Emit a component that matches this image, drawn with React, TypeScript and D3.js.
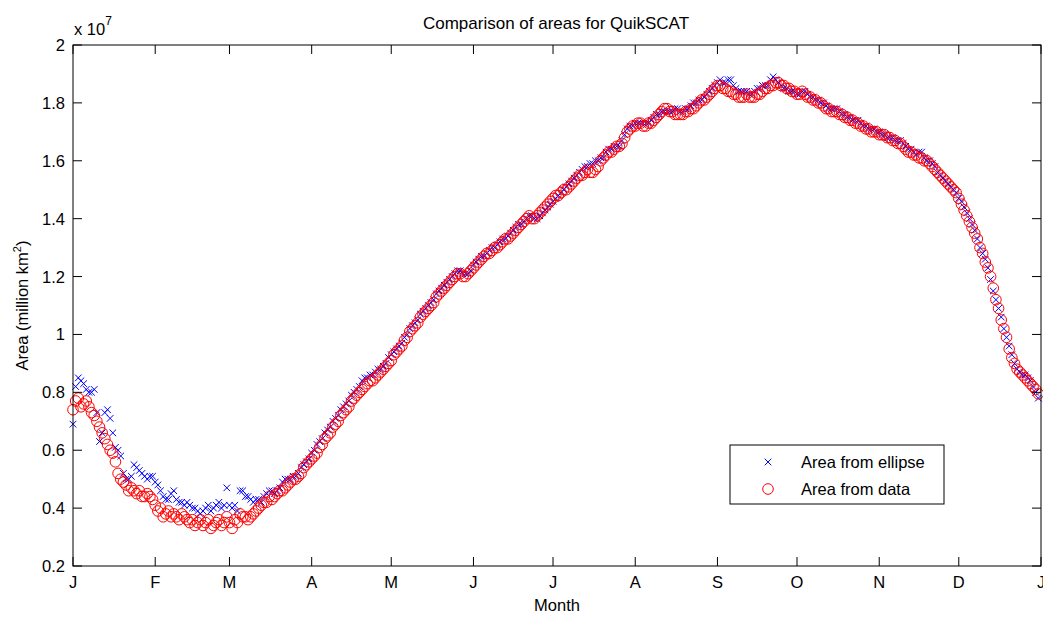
import React from "react";
import * as d3 from "d3";

const monthTicks = ["J", "F", "M", "A", "M", "J", "J", "A", "S", "O", "N", "D", "J"];
const monthStartDays = [0, 31, 59, 90, 120, 151, 181, 212, 243, 273, 304, 334, 365];
const yTicks = [0.2, 0.4, 0.6, 0.8, 1, 1.2, 1.4, 1.6, 1.8, 2];

// Area from data (x 10^7), one value per day, day 0 .. 364
const areaData = [
  0.74, 0.77, 0.78, 0.75, 0.76, 0.77, 0.75, 0.73, 0.72, 0.70,
  0.68, 0.66, 0.64, 0.62, 0.60, 0.59, 0.56, 0.52, 0.50, 0.49,
  0.48, 0.46, 0.47, 0.46, 0.45, 0.46, 0.44, 0.44, 0.45, 0.44,
  0.43, 0.41, 0.39, 0.40, 0.37, 0.38, 0.39, 0.37, 0.38, 0.37,
  0.36, 0.38, 0.37, 0.36, 0.35, 0.36, 0.34, 0.35, 0.36, 0.34,
  0.35, 0.36, 0.33, 0.34, 0.35, 0.36, 0.34, 0.35, 0.37, 0.35,
  0.33, 0.36, 0.35, 0.38, 0.37, 0.37, 0.36, 0.37, 0.38, 0.39,
  0.40, 0.41, 0.42, 0.42, 0.44, 0.43, 0.44, 0.45, 0.46, 0.46,
  0.47, 0.48, 0.49, 0.50, 0.50, 0.51, 0.52, 0.54, 0.55, 0.56,
  0.57, 0.58, 0.59, 0.61, 0.62, 0.64, 0.65, 0.66, 0.68, 0.69,
  0.70, 0.72, 0.73, 0.74, 0.75, 0.77, 0.78, 0.79, 0.80, 0.81,
  0.82, 0.83, 0.84, 0.84, 0.85, 0.86, 0.87, 0.88, 0.89, 0.90,
  0.91, 0.93, 0.94, 0.95, 0.96, 0.98, 0.99, 1.01, 1.02, 1.03,
  1.04, 1.06, 1.07, 1.08, 1.09, 1.10, 1.11, 1.13, 1.14, 1.15,
  1.16, 1.17, 1.18, 1.19, 1.20, 1.21, 1.21, 1.20, 1.20, 1.21,
  1.22, 1.23, 1.24, 1.25, 1.26, 1.27, 1.28, 1.28, 1.29, 1.30,
  1.30, 1.31, 1.32, 1.33, 1.33, 1.34, 1.35, 1.36, 1.37, 1.38,
  1.39, 1.40, 1.41, 1.40, 1.40, 1.41, 1.42, 1.43, 1.44, 1.45,
  1.46, 1.47, 1.48, 1.48, 1.49, 1.50, 1.50, 1.51, 1.52, 1.53,
  1.54, 1.55, 1.55, 1.56, 1.57, 1.56, 1.56, 1.57, 1.58, 1.60,
  1.61, 1.62, 1.63, 1.63, 1.64, 1.65, 1.65, 1.66, 1.68, 1.70,
  1.71, 1.72, 1.72, 1.73, 1.73, 1.72, 1.72, 1.73, 1.73, 1.74,
  1.75, 1.76, 1.77, 1.78, 1.78, 1.77, 1.77, 1.76, 1.76, 1.76,
  1.76, 1.77, 1.77, 1.78, 1.78, 1.79, 1.80, 1.81, 1.81, 1.82,
  1.83, 1.84, 1.85, 1.86, 1.86, 1.85, 1.85, 1.84, 1.84, 1.83,
  1.83, 1.82, 1.82, 1.82, 1.83, 1.82, 1.82, 1.82, 1.83, 1.83,
  1.84, 1.85, 1.85, 1.86, 1.86, 1.87, 1.87, 1.86, 1.86, 1.85,
  1.85, 1.84, 1.84, 1.83, 1.83, 1.84, 1.83, 1.82, 1.82, 1.81,
  1.81, 1.80, 1.80, 1.79, 1.78, 1.78, 1.77, 1.77, 1.77, 1.76,
  1.76, 1.75, 1.75, 1.74, 1.74, 1.73, 1.73, 1.72, 1.72, 1.71,
  1.71, 1.70, 1.70, 1.70, 1.69, 1.69, 1.69, 1.68, 1.68, 1.67,
  1.67, 1.66, 1.66, 1.65, 1.64, 1.63, 1.63, 1.62, 1.62, 1.61,
  1.61, 1.60, 1.60, 1.59, 1.58, 1.57, 1.56, 1.55, 1.54, 1.53,
  1.52, 1.51, 1.50, 1.49, 1.47, 1.45, 1.43, 1.41, 1.39, 1.37,
  1.35, 1.33, 1.30, 1.28, 1.25, 1.23, 1.20, 1.16, 1.12, 1.09,
  1.05, 1.02, 0.99, 0.95, 0.92, 0.90, 0.88, 0.87, 0.86, 0.85,
  0.84, 0.83, 0.82, 0.81, 0.795,
];

// Area from ellipse (x 10^7), one value per day, day 0 .. 364
const areaEllipse = [
  0.69, 0.82, 0.85, 0.84, 0.83, 0.81, 0.80, 0.80, 0.81, 0.73,
  0.63, 0.66, 0.73, 0.74, 0.71, 0.66, 0.61, 0.60, 0.58, 0.52,
  0.50, 0.50, 0.51, 0.55, 0.54, 0.53, 0.52, 0.51, 0.50, 0.51,
  0.51, 0.49, 0.48, 0.46, 0.44, 0.43, 0.43, 0.45, 0.46, 0.43,
  0.42, 0.42, 0.41, 0.42, 0.41, 0.40, 0.40, 0.39, 0.38, 0.39,
  0.40, 0.41, 0.39, 0.40, 0.41, 0.42, 0.40, 0.41, 0.47, 0.41,
  0.40, 0.41, 0.39, 0.46, 0.46, 0.44, 0.44, 0.43, 0.42, 0.43,
  0.43, 0.42, 0.44, 0.45, 0.46, 0.46, 0.45, 0.46, 0.47, 0.49,
  0.50, 0.50, 0.50, 0.51, 0.51, 0.52, 0.54, 0.55, 0.56, 0.57,
  0.59, 0.60, 0.62, 0.63, 0.64, 0.66, 0.67, 0.68, 0.70, 0.71,
  0.72, 0.74, 0.75, 0.76, 0.77, 0.79, 0.80, 0.81, 0.82, 0.84,
  0.85, 0.85, 0.86, 0.86, 0.87, 0.88, 0.88, 0.89, 0.90, 0.92,
  0.93, 0.94, 0.95, 0.96, 0.97, 0.99, 1.00, 1.02, 1.03, 1.04,
  1.05, 1.07, 1.08, 1.09, 1.10, 1.11, 1.12, 1.14, 1.15, 1.16,
  1.17, 1.18, 1.19, 1.20, 1.21, 1.22, 1.22, 1.21, 1.21, 1.21,
  1.22, 1.24, 1.25, 1.26, 1.27, 1.27, 1.28, 1.29, 1.30, 1.30,
  1.31, 1.32, 1.33, 1.33, 1.34, 1.35, 1.36, 1.37, 1.38, 1.38,
  1.39, 1.40, 1.41, 1.41, 1.40, 1.40, 1.41, 1.42, 1.43, 1.44,
  1.45, 1.46, 1.47, 1.48, 1.49, 1.50, 1.51, 1.52, 1.53, 1.54,
  1.55, 1.56, 1.57, 1.58, 1.58, 1.59, 1.59, 1.60, 1.60, 1.61,
  1.61, 1.63, 1.64, 1.64, 1.65, 1.65, 1.65, 1.67, 1.69, 1.71,
  1.72, 1.72, 1.73, 1.73, 1.73, 1.73, 1.73, 1.73, 1.74, 1.75,
  1.76, 1.76, 1.77, 1.77, 1.77, 1.77, 1.77, 1.78, 1.78, 1.77,
  1.77, 1.78, 1.78, 1.79, 1.80, 1.80, 1.81, 1.81, 1.82, 1.83,
  1.84, 1.85, 1.86, 1.87, 1.88, 1.87, 1.87, 1.88, 1.88, 1.86,
  1.85, 1.84, 1.84, 1.84, 1.84, 1.83, 1.83, 1.84, 1.85, 1.85,
  1.86, 1.86, 1.86, 1.88, 1.89, 1.88, 1.87, 1.86, 1.85, 1.85,
  1.84, 1.84, 1.84, 1.83, 1.83, 1.84, 1.84, 1.83, 1.82, 1.82,
  1.81, 1.81, 1.80, 1.80, 1.79, 1.78, 1.78, 1.78, 1.78, 1.77,
  1.76, 1.76, 1.75, 1.75, 1.74, 1.74, 1.74, 1.73, 1.72, 1.72,
  1.71, 1.71, 1.71, 1.70, 1.70, 1.69, 1.69, 1.68, 1.68, 1.68,
  1.67, 1.67, 1.67, 1.66, 1.65, 1.64, 1.64, 1.63, 1.62, 1.63,
  1.63, 1.61, 1.60, 1.60, 1.59, 1.58, 1.56, 1.55, 1.54, 1.53,
  1.52, 1.51, 1.50, 1.49, 1.47, 1.46, 1.44, 1.42, 1.40, 1.38,
  1.36, 1.33, 1.30, 1.28, 1.26, 1.23, 1.19, 1.15, 1.12, 1.09,
  1.06, 1.02, 0.99, 0.96, 0.93, 0.90, 0.88, 0.87, 0.86, 0.86,
  0.85, 0.84, 0.82, 0.80, 0.78,
];

const W = 1043;
const H = 617;
const M = { left: 73, right: 1041, top: 45, bottom: 566 };
const FONT = "'Liberation Sans', Arial, Helvetica, sans-serif";
const TICK = 9;
const FS = 16.5;

export default function App() {
  const x = d3.scaleLinear().domain([0, 365]).range([M.left, M.right]);
  const y = d3.scaleLinear().domain([0.2, 2]).range([M.bottom, M.top]);
  const fmt = (v: number) => (v === 1 || v === 2 ? String(v) : d3.format(".1f")(v));
  const s = 3.3;
  const cross = (cx: number, cy: number) =>
    `M${cx - s},${cy - s}L${cx + s},${cy + s}M${cx - s},${cy + s}L${cx + s},${cy - s}`;

  return (
    <svg
      width={W}
      height={H}
      style={{ position: "absolute", left: 0, top: 0, background: "#fff" }}
      fontFamily={FONT}
    >
      <rect x={0} y={0} width={W} height={H} fill="#fff" />
      <defs>
        <clipPath id="clip">
          <rect x={M.left - 8} y={M.top} width={M.right - M.left + 16} height={M.bottom - M.top} />
        </clipPath>
      </defs>
      {/* title */}
      <text x={556} y={29} textAnchor="middle" fontSize={17} fill="#000">
        Comparison of areas for QuikSCAT
      </text>
      {/* exponent */}
      <text x={74} y={35} fontSize={FS} fill="#000">
        x 10
        <tspan dy={-10} fontSize={12}>7</tspan>
      </text>

      {/* data */}
      <g clipPath="url(#clip)">
        {areaEllipse.map((v, i) => (
          <path key={"e" + i} d={cross(x(i), y(v))} stroke="#0000ff" strokeWidth={1} fill="none" />
        ))}
        {areaData.map((v, i) => (
          <circle
            key={"d" + i}
            cx={x(i)}
            cy={y(v)}
            r={5.3}
            fill="none"
            stroke="#ff0000"
            strokeWidth={1}
          />
        ))}
      </g>

      {/* axes box */}
      <rect
        x={M.left}
        y={M.top}
        width={M.right - M.left}
        height={M.bottom - M.top}
        fill="none"
        stroke="#000"
        strokeWidth={1}
      />
      {/* x ticks */}
      {monthStartDays.map((d, i) => (
        <g key={"xt" + i}>
          <line x1={x(d)} x2={x(d)} y1={M.bottom} y2={M.bottom - TICK} stroke="#000" />
          <line x1={x(d)} x2={x(d)} y1={M.top} y2={M.top + TICK} stroke="#000" />
          <text x={x(d)} y={588} textAnchor="middle" fontSize={FS} fill="#000">
            {monthTicks[i]}
          </text>
        </g>
      ))}
      {/* y ticks */}
      {yTicks.map((v, i) => (
        <g key={"yt" + i}>
          <line x1={M.left} x2={M.left + TICK} y1={y(v)} y2={y(v)} stroke="#000" />
          <line x1={M.right} x2={M.right - TICK} y1={y(v)} y2={y(v)} stroke="#000" />
          <text x={65} y={y(v) + 6} textAnchor="end" fontSize={FS} fill="#000">
            {fmt(v)}
          </text>
        </g>
      ))}
      {/* axis labels */}
      <text x={557} y={611} textAnchor="middle" fontSize={FS} fill="#000">
        Month
      </text>
      <text
        transform={`translate(28,${(M.top + M.bottom) / 2}) rotate(-90)`}
        textAnchor="middle"
        fontSize={FS}
        fill="#000"
      >
        Area (million km
        <tspan dy={-7} fontSize={11}>2</tspan>
        <tspan dy={7}>)</tspan>
      </text>

      {/* legend */}
      <rect x={730} y={445} width={214} height={59} fill="#fff" stroke="#000" strokeWidth={1} />
      <path d={cross(768, 462)} stroke="#0000ff" fill="none" />
      <text x={801} y={468} fontSize={FS} fill="#000">
        Area from ellipse
      </text>
      <circle cx={768} cy={489} r={5.3} fill="none" stroke="#ff0000" />
      <text x={801} y={495} fontSize={FS} fill="#000">
        Area from data
      </text>
    </svg>
  );
}
